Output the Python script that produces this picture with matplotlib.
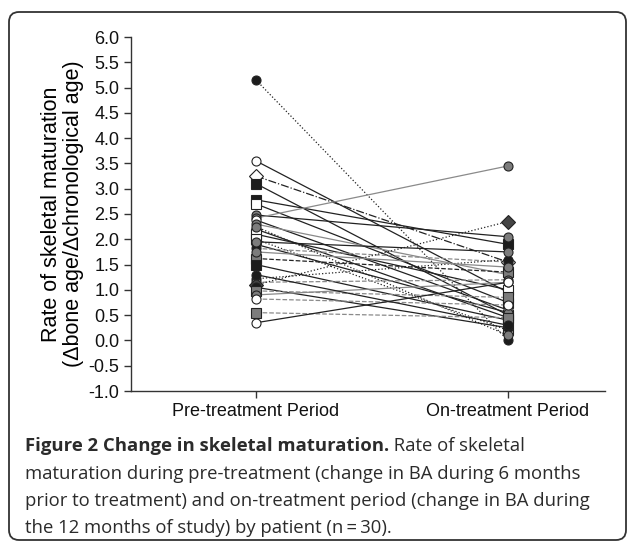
import matplotlib.pyplot as plt
from matplotlib.patches import FancyBboxPatch

# per patient: value before treatment, value during treatment
pre_vals = [5.15, 3.55, 3.25, 3.10, 2.78, 2.70, 2.48, 2.42, 2.38, 2.30,
            2.20, 2.10, 2.00, 1.90, 1.82, 1.62, 1.50, 1.22, 1.15, 1.10,
            1.05, 0.98, 0.90, 0.82, 0.55, 0.35, 1.75, 2.25, 1.95, 1.30]
on_vals = [0.00, 0.95, 1.55, 0.50, 1.90, 0.75, 2.05, 3.45, 0.60, 1.30,
           0.45, 1.00, 0.20, 0.55, 1.55, 1.35, 0.40, 1.60, 1.20, 2.35,
           0.25, 0.85, 1.15, 0.70, 0.45, 1.15, 1.45, 0.10, 1.75, 0.30]
markers = ['o', 'o', 'D', 's', 's', 's', 'o', 'o', 'o', 'o',
           'o', 's', 's', 'o', 'o', 's', 's', 'o', 'o', 'D',
           'o', 's', 'o', 'o', 's', 'o', 'o', 'o', 'o', 'o']
fills = ['k', 'w', 'w', 'k', 'k', 'w', 'g', 'g', 'w', 'g',
         'g', 'w', 'w', 'g', 'k', 'g', 'k', 'k', 'g', 'd',
         'k', 'g', 'g', 'w', 'g', 'w', 'g', 'g', 'g', 'k']
styles = [':', '-', '-.', '-', '-', '-', '-', 'g-', '-', 'g-',
          '-', '-', ':', '-', 'g--', '--', '-', ':', 'g--', ':',
          '-', 'g--', 'g-', 'g--', 'g--', '-', 'g-', ':', '-', '-']
periods = ['Pre-treatment Period', 'On-treatment Period']

fill_col = {'k': '#1c1c1c', 'w': 'white', 'g': '#7c7c7c', 'd': '#444444'}

fig = plt.figure(figsize=(6.29, 5.43), dpi=100)

# frame and caption in pixel coordinates
bg = fig.add_axes([0, 0, 1, 1])
bg.set_xlim(0, 629)
bg.set_ylim(543, 0)
bg.axis('off')
bg.add_patch(FancyBboxPatch((9, 12), 617, 528, boxstyle='round,pad=0,rounding_size=10',
                            fc='none', ec='#333333', lw=1.3))
cap = dict(fontsize=13.3, family=['Open Sans', 'DejaVu Sans'], color='#2b2b2b', va='baseline')
t1 = bg.text(25, 451, 'Figure 2 Change in skeletal maturation.', fontweight='bold', **cap)
fig.canvas.draw()
bb = t1.get_window_extent().transformed(bg.transData.inverted())
bg.text(bb.x1, 451, ' Rate of skeletal', **cap)
bg.text(25, 479, 'maturation during pre-treatment (change in BA during 6 months', **cap)
bg.text(25, 506, 'prior to treatment) and on-treatment period (change in BA during', **cap)
bg.text(25, 533, 'the 12 months of study) by patient (n\u2009=\u200930).', **cap)

ax = fig.add_axes([131 / 629, 1 - 391 / 543, (605 - 131) / 629, (391 - 37) / 543])
for i in range(len(pre_vals)):
    st = styles[i]
    lc = '#222222'
    if st.startswith('g'):
        lc = '#8a8a8a'
        st = st[1:]
    ax.plot([0, 1], [pre_vals[i], on_vals[i]], linestyle=st, color=lc, lw=0.9, zorder=2)
for i in range(len(pre_vals)):
    ax.plot([0, 1], [pre_vals[i], on_vals[i]], linestyle='none', marker=markers[i],
            ms=6.5 if markers[i] != 'D' else 7, mfc=fill_col[fills[i]], mec='#222222', mew=0.8, zorder=3)

ax.set_xlim(-0.496, 1.385)
ax.set_ylim(-1, 6)
ax.set_yticks([-1 + 0.5 * k for k in range(15)])
ax.set_yticklabels([f'{-1 + 0.5 * k:.1f}' for k in range(15)])
ax.set_xticks([0, 1])
ax.set_xticklabels(periods)
for s in ['top', 'right']:
    ax.spines[s].set_visible(False)
for s in ['left', 'bottom']:
    ax.spines[s].set_color('#333333')
    ax.spines[s].set_linewidth(1.0)
ax.tick_params(labelsize=13, colors='#333333', labelcolor='#111111', length=5, width=1.0)
for lab in ax.get_xticklabels() + ax.get_yticklabels():
    lab.set_family(['Liberation Sans', 'DejaVu Sans'])
ax.set_ylabel('Rate of skeletal maturation\n(\u0394bone age/\u0394chronological age)',
              fontsize=15.5, family=['Liberation Sans', 'DejaVu Sans'], labelpad=3, linespacing=1.05)

fig.savefig('out.png', dpi=100)
